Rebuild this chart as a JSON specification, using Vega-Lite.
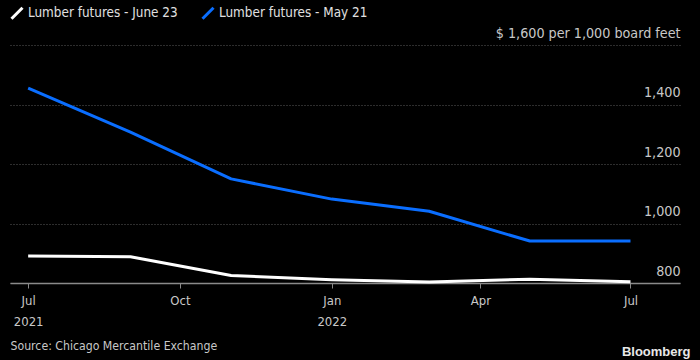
{
  "$schema": "https://vega.github.io/schema/vega-lite/v6.json",
  "width": 670,
  "height": 238,
  "autosize": "none",
  "padding": {"left": 10, "top": 45, "right": 20, "bottom": 77},
  "background": "#000000",
  "config": {
    "view": {"stroke": null},
    "font": "DejaVu Sans Condensed"
  },
  "data": {
    "values": [
      {"date": "2021-07-01T00:00", "series": "Lumber futures - May 21", "price": 1455},
      {"date": "2021-09-01T00:00", "series": "Lumber futures - May 21", "price": 1307},
      {"date": "2021-11-01T00:00", "series": "Lumber futures - May 21", "price": 1150},
      {"date": "2022-01-01T00:00", "series": "Lumber futures - May 21", "price": 1082},
      {"date": "2022-03-01T00:00", "series": "Lumber futures - May 21", "price": 1041},
      {"date": "2022-05-01T00:00", "series": "Lumber futures - May 21", "price": 941},
      {"date": "2022-07-01T00:00", "series": "Lumber futures - May 21", "price": 941},
      {"date": "2021-07-01T00:00", "series": "Lumber futures - June 23", "price": 891},
      {"date": "2021-09-01T00:00", "series": "Lumber futures - June 23", "price": 888},
      {"date": "2021-11-01T00:00", "series": "Lumber futures - June 23", "price": 825},
      {"date": "2022-01-01T00:00", "series": "Lumber futures - June 23", "price": 811},
      {"date": "2022-03-01T00:00", "series": "Lumber futures - June 23", "price": 803},
      {"date": "2022-05-01T00:00", "series": "Lumber futures - June 23", "price": 813},
      {"date": "2022-07-01T00:00", "series": "Lumber futures - June 23", "price": 804}
    ]
  },
  "mark": {"type": "line", "strokeWidth": 3, "strokeJoin": "round", "strokeCap": "butt"},
  "encoding": {
    "x": {
      "field": "date",
      "type": "temporal",
      "scale": {"domain": [{"year": 2021, "month": 6, "date": 20}, {"year": 2022, "month": 7, "date": 31}]},
      "axis": {
        "values": [
          {"year": 2021, "month": 7, "date": 1},
          {"year": 2021, "month": 10, "date": 1},
          {"year": 2022, "month": 1, "date": 1},
          {"year": 2022, "month": 4, "date": 1},
          {"year": 2022, "month": 7, "date": 1}
        ],
        "labelExpr": "(month(datum.value) == 0 || (month(datum.value) == 6 && year(datum.value) == 2021)) ? [timeFormat(datum.value, '%b'), timeFormat(datum.value, '%Y')] : timeFormat(datum.value, '%b')",
        "grid": false,
        "domain": true,
        "domainColor": "#8a8a8a",
        "domainWidth": 1.5,
        "ticks": true,
        "tickColor": "#8a8a8a",
        "tickSize": 5,
        "labelColor": "#c8c8c8",
        "labelFontSize": 13,
        "labelPadding": 6,
        "labelLineHeight": 21,
        "labelAlign": "center",
        "labelBaseline": "top",
        "title": "Source: Chicago Mercantile Exchange",
        "titleColor": "#c8c8c8",
        "titleFontSize": 12.2,
        "titleFontWeight": "normal",
        "titleAlign": "left",
        "titleAnchor": "start",
        "titleBaseline": "alphabetic",
        "titleX": 0,
        "titleY": 66
      }
    },
    "y": {
      "field": "price",
      "type": "quantitative",
      "scale": {"domain": [800, 1600], "nice": false, "zero": false},
      "axis": {
        "orient": "right",
        "values": [800, 1000, 1200, 1400, 1600],
        "labelExpr": "datum.value == 1600 ? '$ 1,600 per 1,000 board feet' : format(datum.value, ',')",
        "grid": true,
        "gridColor": "#5a5a5a",
        "gridDash": [1, 2],
        "gridWidth": 1,
        "domain": false,
        "ticks": false,
        "tickSize": 0,
        "labelPadding": 0,
        "labelAlign": "right",
        "labelBaseline": "alphabetic",
        "labelOffset": -8,
        "labelLimit": 400,
        "labelColor": "#c8c8c8",
        "labelFontSize": 14.2,
        "title": "Bloomberg",
        "titleAngle": 0,
        "titleColor": "#e8e8e8",
        "titleFont": "Liberation Sans",
        "titleFontWeight": "bold",
        "titleFontSize": 13,
        "titleAlign": "right",
        "titleBaseline": "alphabetic",
        "titleX": 10,
        "titleY": 310
      }
    },
    "color": {
      "field": "series",
      "type": "nominal",
      "scale": {"domain": ["Lumber futures - June 23", "Lumber futures - May 21"], "range": ["#ffffff", "#0a6eff"]},
      "legend": {
        "orient": "none",
        "legendX": 0,
        "legendY": -39,
        "direction": "horizontal",
        "title": null,
        "symbolType": "M-1,1L1,-1",
        "symbolSize": 121,
        "symbolStrokeWidth": 3,
        "labelColor": "#e0e0e0",
        "labelFontSize": 13.4,
        "labelOffset": 4,
        "columnPadding": 18
      }
    }
  }
}
